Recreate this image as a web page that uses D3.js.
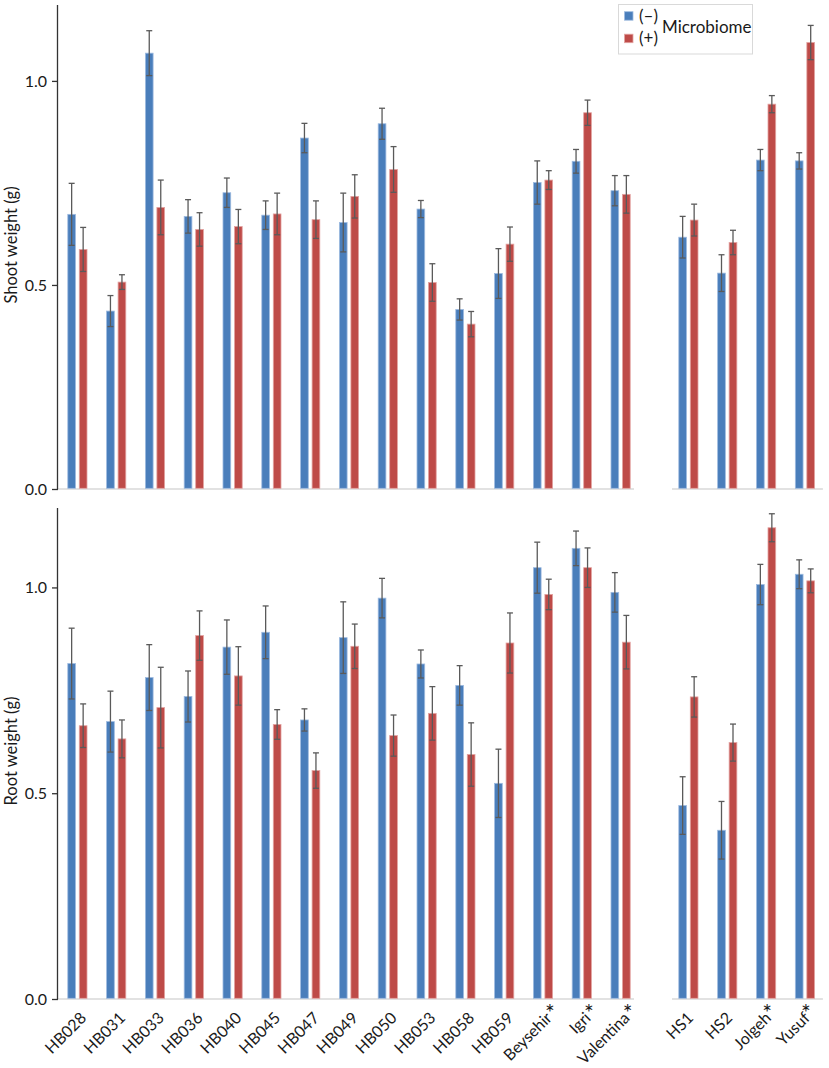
<!DOCTYPE html>
<html>
<head>
<meta charset="utf-8">
<script src="https://cdn.jsdelivr.net/npm/d3@7"></script>
<style>
  body { margin: 0; background: #fff; }
  svg { display: block; font-family: Lato, "Open Sans", sans-serif; }
</style>
</head>
<body>
<div id="chart"></div>
<script>
// categories, left group and right group
const leftCats = ['HB028','HB031','HB033','HB036','HB040','HB045','HB047','HB049','HB050','HB053','HB058','HB059','Beysehir','Igri','Valentina'];
const rightCats = ['HS1','HS2','Jolgeh','Yusuf'];
const starred = ['Beysehir','Igri','Valentina','Jolgeh','Yusuf'];
const series = ['(–)','(+)'];
const yTicks = [0, 0.5, 1.0];

// shoot weight (g), in category order left then right
const shootMinus    = [0.673,0.436,1.068,0.668,0.726,0.671,0.860,0.653,0.895,0.686,0.440,0.528,0.751,0.803,0.731, 0.617,0.529,0.806,0.804];
const shootMinusErr = [0.076,0.038,0.055,0.041,0.036,0.035,0.036,0.072,0.038,0.021,0.026,0.061,0.053,0.029,0.037, 0.051,0.045,0.026,0.020];
const shootPlus     = [0.587,0.507,0.690,0.636,0.643,0.674,0.660,0.717,0.783,0.506,0.404,0.600,0.757,0.922,0.722, 0.659,0.604,0.943,1.094];
const shootPlusErr  = [0.054,0.018,0.067,0.041,0.042,0.051,0.046,0.053,0.056,0.046,0.031,0.042,0.023,0.031,0.046, 0.039,0.030,0.021,0.042];

// root weight (g)
const rootMinus     = [0.815,0.674,0.781,0.735,0.855,0.891,0.678,0.878,0.974,0.814,0.762,0.524,1.048,1.095,0.988, 0.470,0.410,1.007,1.032];
const rootMinusErr  = [0.086,0.074,0.080,0.062,0.066,0.064,0.027,0.087,0.048,0.034,0.048,0.083,0.062,0.042,0.048, 0.070,0.070,0.049,0.035];
const rootPlus      = [0.664,0.632,0.708,0.883,0.785,0.667,0.555,0.857,0.640,0.694,0.594,0.865,0.983,1.048,0.867, 0.734,0.623,1.145,1.016];
const rootPlusErr   = [0.053,0.046,0.098,0.060,0.071,0.036,0.043,0.054,0.050,0.065,0.077,0.073,0.037,0.048,0.065, 0.049,0.045,0.034,0.029];

const W = 829, H = 1068;
const fills = ['#4a7ebb', '#be4b48'];
const strokes = ['#9ebbe0', '#e3a3a1'];

const svg = d3.select('#chart').append('svg')
  .attr('width', W).attr('height', H)
  .attr('viewBox', `0 0 ${W} ${H}`);

const allCats = leftCats.concat(rightCats);

const xLeft = d3.scaleBand().domain(leftCats).range([58, 640]);
const xRight = d3.scaleBand().domain(rightCats).range([669, 824.4]);
const isLeft = c => leftCats.includes(c);
const xPos = c => isLeft(c) ? xLeft(c) : xRight(c);
const band = xLeft.bandwidth();

const xSub = d3.scaleBand().domain(series)
  .range([0, band])
  .paddingInner(0.26)
  .paddingOuter(0.817);

function drawPanel(yScale, minus, minusErr, plus, plusErr, label, labelY) {
  const g = svg.append('g');

  // light baselines for each group
  g.append('line')
    .attr('x1', xLeft.range()[0]).attr('x2', xLeft.range()[1] - 6)
    .attr('y1', yScale(0)).attr('y2', yScale(0))
    .attr('stroke', '#d9d9d9').attr('stroke-width', 1.5);
  g.append('line')
    .attr('x1', xRight.range()[0] + 3).attr('x2', xRight.range()[1] - 1.5)
    .attr('y1', yScale(0)).attr('y2', yScale(0))
    .attr('stroke', '#d9d9d9').attr('stroke-width', 1.5);

  const rows = allCats.map((c, i) => ({
    cat: c,
    vals: [
      {s: series[0], v: minus[i], e: minusErr[i], k: 0},
      {s: series[1], v: plus[i], e: plusErr[i], k: 1}
    ]
  }));

  const grp = g.selectAll('g.cat')
    .data(rows)
    .join('g')
      .attr('class', 'cat')
      .attr('transform', d => `translate(${xPos(d.cat)},0)`);

  grp.selectAll('rect')
    .data(d => d.vals)
    .join('rect')
      .attr('x', d => xSub(d.s) + 0.4)
      .attr('width', xSub.bandwidth() - 0.8)
      .attr('y', d => yScale(d.v))
      .attr('height', d => yScale(0) - yScale(d.v) - 0.7)
      .attr('fill', d => fills[d.k])
      .attr('stroke', d => strokes[d.k])
      .attr('stroke-width', 0.8);

  // error bars
  const err = grp.selectAll('g.err')
    .data(d => d.vals)
    .join('g')
      .attr('class', 'err')
      .attr('stroke', '#5a5a5a')
      .attr('stroke-width', 1.3);
  const cx = d => xSub(d.s) + xSub.bandwidth() / 2;
  err.append('line')
    .attr('x1', cx).attr('x2', cx)
    .attr('y1', d => yScale(d.v + d.e)).attr('y2', d => yScale(d.v - d.e));
  err.append('line')
    .attr('x1', d => cx(d) - 3).attr('x2', d => cx(d) + 3)
    .attr('y1', d => yScale(d.v + d.e)).attr('y2', d => yScale(d.v + d.e));
  err.append('line')
    .attr('x1', d => cx(d) - 3).attr('x2', d => cx(d) + 3)
    .attr('y1', d => yScale(d.v - d.e)).attr('y2', d => yScale(d.v - d.e));

  // y axis
  const axis = g.append('g')
    .attr('transform', `translate(58,0)`)
    .call(d3.axisLeft(yScale).tickValues(yTicks).tickFormat(d3.format('.1f')).tickSize(6).tickPadding(5));
  axis.select('.domain').attr('stroke', '#333').attr('stroke-width', 1.3)
    .attr('d', `M-0.5,${yScale.range()[0]}V${yScale.range()[1]}`);
  axis.selectAll('.tick line').attr('stroke', '#333').attr('stroke-width', 1.3);
  axis.selectAll('.tick text').attr('font-size', 16).attr('fill', '#1a1a1a')
    .attr('font-family', 'Lato, sans-serif');

  g.append('text')
    .attr('transform', `translate(17,${labelY}) rotate(-90)`)
    .attr('text-anchor', 'middle')
    .attr('font-size', 16.5)
    .attr('fill', '#1a1a1a')
    .text(label);
}

const yTop = d3.scaleLinear().domain([0, 1.186]).range([489, 5]);
const yBottom = d3.scaleLinear().domain([0, 1.193]).range([999, 508]);

drawPanel(yTop, shootMinus, shootMinusErr, shootPlus, shootPlusErr, 'Shoot weight (g)', 245);
drawPanel(yBottom, rootMinus, rootMinusErr, rootPlus, rootPlusErr, 'Root weight (g)', 751);

// x labels under the bottom panel
const labels = svg.append('g');
labels.selectAll('text.xl')
  .data(allCats)
  .join('text')
    .attr('class', 'xl')
    .attr('transform', d => `translate(${xPos(d) + band / 2 + (isLeft(d) ? 10 : 6)},1019) rotate(-45)`)
    .attr('text-anchor', 'end')
    .attr('font-size', 16)
    .attr('fill', '#1a1a1a')
    .text(d => d);

labels.selectAll('text.star')
  .data(starred)
  .join('text')
    .attr('class', 'star')
    .attr('x', d => xPos(d) + band / 2 + (isLeft(d) ? 7 : 1))
    .attr('y', 1021)
    .attr('text-anchor', 'middle')
    .attr('font-size', 23)
    .attr('fill', '#1a1a1a')
    .text('*');

// legend
const legend = svg.append('g');
legend.append('rect')
  .attr('x', 618.5).attr('y', 4.5).attr('width', 134).attr('height', 49.5)
  .attr('fill', '#fff').attr('stroke', '#d9d9d9');
const legY = d3.scalePoint().domain(series).range([16, 38.5]);
legend.selectAll('rect.key')
  .data(series)
  .join('rect')
    .attr('class', 'key')
    .attr('x', 624.5).attr('y', d => legY(d) - 4.3)
    .attr('width', 8.5).attr('height', 8.5)
    .attr('fill', (d, i) => fills[i])
    .attr('stroke', (d, i) => strokes[i]).attr('stroke-width', 0.8);
legend.selectAll('text.key')
  .data(series)
  .join('text')
    .attr('class', 'key')
    .attr('x', 639).attr('y', d => legY(d) + 5.5)
    .attr('font-size', 17)
    .attr('fill', '#1a1a1a')
    .text(d => d);
legend.append('text')
  .attr('x', 662).attr('y', 33)
  .attr('font-size', 17)
  .attr('fill', '#1a1a1a')
  .text('Microbiome');
</script>
</body>
</html>
